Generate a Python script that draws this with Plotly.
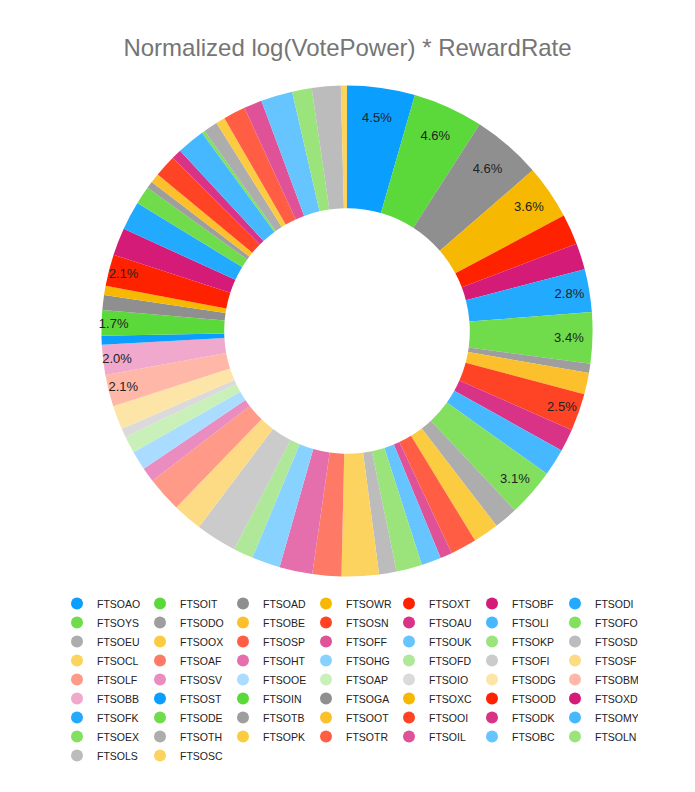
import plotly.graph_objects as go

title_text = "Normalized log(VotePower) * RewardRate"

labels = ["FTSOAO", "FTSOIT", "FTSOAD", "FTSOWR", "FTSOXT", "FTSOBF", "FTSODI",
          "FTSOYS", "FTSODO", "FTSOBE", "FTSOSN", "FTSOAU", "FTSOLI", "FTSOFO",
          "FTSOEU", "FTSOOX", "FTSOSP", "FTSOFF", "FTSOUK", "FTSOKP", "FTSOSD",
          "FTSOCL", "FTSOAF", "FTSOHT", "FTSOHG", "FTSOFD", "FTSOFI", "FTSOSF",
          "FTSOLF", "FTSOSV", "FTSOOE", "FTSOAP", "FTSOIO", "FTSODG", "FTSOBM",
          "FTSOBB", "FTSOST", "FTSOIN", "FTSOGA", "FTSOXC", "FTSOOD", "FTSOXD",
          "FTSOFK", "FTSODE", "FTSOTB", "FTSOOT", "FTSOOI", "FTSODK", "FTSOMY",
          "FTSOEX", "FTSOTH", "FTSOPK", "FTSOTR", "FTSOIL", "FTSOBC", "FTSOLN",
          "FTSOLS", "FTSOSC"]

values = [4.46, 4.62, 4.57, 3.57, 2.00, 1.75, 2.81,
          3.36, 0.61, 1.41, 2.46, 1.48, 1.79, 3.15,
          1.56, 1.69, 1.72, 0.78, 1.30, 1.69, 1.15,
          2.45, 1.90, 2.17, 1.87, 1.30, 2.70, 1.94,
          2.32, 0.96, 1.26, 1.12, 0.59, 1.57, 2.09,
          1.96, 0.59, 1.68, 0.98, 0.60, 2.08, 1.81,
          1.89, 1.18, 0.46, 0.63, 1.46, 0.65, 1.84,
          0.21, 0.93, 0.60, 1.46, 1.19, 2.08, 1.29,
          1.90, 0.40]

# slices whose percentage is printed on the chart
labelled = ["FTSOAO", "FTSOIT", "FTSOAD", "FTSOWR", "FTSODI", "FTSOYS", "FTSOSN",
            "FTSOFO", "FTSOBM", "FTSOBB", "FTSOIN", "FTSOOD"]

palette = ["#0a9eff", "#5cd93a", "#8f8f8f", "#f6b800", "#ff2200", "#d41b78",
           "#22aaff", "#70dc4c", "#9e9e9e", "#fbc02b", "#ff4425", "#d93388",
           "#45b8ff", "#82e05e", "#adadad", "#fbcb40", "#ff5e44", "#e05298",
           "#66c4ff", "#9be47c", "#bcbcbc", "#fcd35e", "#ff7a66", "#e46fac",
           "#88d2ff", "#aee898", "#cbcbcb", "#fddb84", "#ff9a88", "#ea8cc0",
           "#aadcff", "#c8f0b8", "#dadada", "#fde5a8", "#ffb8a8", "#f0a8cc"]

colors = [palette[i % len(palette)] for i in range(len(labels))]
templates = ["%{percent:.1%}" if l in labelled else "" for l in labels]

W, H = 695, 792
OFF = 8  # default page body margin
cx, cy, r = 347 - OFF, 331 - OFF, 246
ML, MR = 39.5, 55.5
PW = W - ML - MR
FONT = "Arial, Liberation Sans, sans-serif"

fig = go.Figure()
fig.add_trace(go.Pie(
    labels=labels, values=values, sort=False, direction="clockwise", rotation=0,
    hole=0.5, marker=dict(colors=colors, line=dict(width=0)),
    texttemplate=templates, textposition="inside", insidetextorientation="horizontal",
    textfont=dict(family=FONT, size=13, color="#222222"),
    showlegend=False,
    domain=dict(x=[(cx - r - ML) / PW, (cx + r - ML) / PW],
                y=[(H - cy - r) / H, (H - cy + r) / H]),
))

for l, c in zip(labels, colors):
    fig.add_trace(go.Scatter(x=[None], y=[None], mode="markers", name=l,
                             marker=dict(symbol="circle", size=12, color=c),
                             showlegend=True, hoverinfo="skip"))

fig.update_layout(
    width=W, height=H,
    margin=dict(l=ML, r=MR, t=0, b=0, autoexpand=False),
    paper_bgcolor="white", plot_bgcolor="white",
    uniformtext=dict(minsize=13, mode="show"),
    title=dict(text=title_text, x=(347.5 - OFF) / W, xanchor="center", xref="container",
               y=1 - (48 - OFF) / H, yanchor="middle",
               font=dict(family=FONT, size=24, color="#757575")),
    xaxis=dict(visible=False), yaxis=dict(visible=False),
    legend=dict(orientation="h", x=0.5, xanchor="center", y=1 - (589 - OFF) / H, yanchor="top",
                entrywidth=38, entrywidthmode="pixels", itemwidth=30,
                tracegroupgap=0,
                font=dict(family=FONT, size=10.5, color="#222222")),
)

fig.write_html("out.html")
